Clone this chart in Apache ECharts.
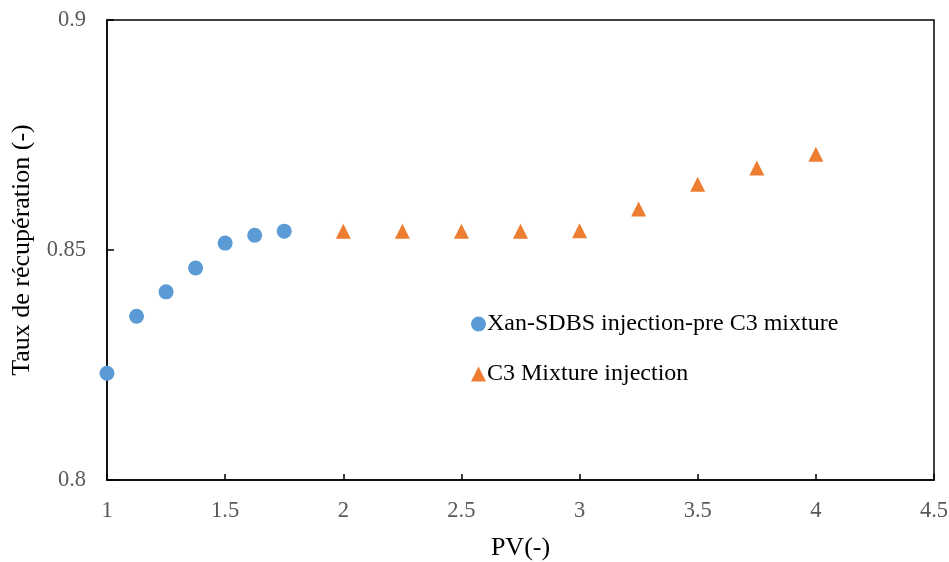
<!DOCTYPE html>
<html>
<head>
<meta charset="utf-8">
<script src="https://cdn.jsdelivr.net/npm/echarts@6/dist/echarts.min.js"></script>
<style>html,body{margin:0;padding:0;background:#fff}#c{width:949px;height:562px}</style>
</head>
<body>
<div id="c"></div>
<script>
const seriesNames = ['Xan-SDBS injection-pre C3 mixture', 'C3 Mixture injection'];
const xanX = [1, 1.125, 1.25, 1.375, 1.5, 1.625, 1.75];
const xanY = [0.8232, 0.8356, 0.8409, 0.8461, 0.8515, 0.8532, 0.8541];
const c3X = [2, 2.25, 2.5, 2.75, 3, 3.25, 3.5, 3.75, 4];
const c3Y = [0.8541, 0.8541, 0.8541, 0.8541, 0.8542, 0.8589, 0.8643, 0.8678, 0.8708];
const xTitle = 'PV(-)';
const yTitle = 'Taux de récupération (-)';

const font = 'Liberation Serif, Times New Roman, serif';
const chart = echarts.init(document.getElementById('c'));
chart.setOption({
  animation: false,
  grid: {left: 107, right: 15, top: 20, bottom: 82, show: true, borderColor: '#000', borderWidth: 1.5,
         containLabel: false, outerBoundsMode: 'none'},
  legend: {
    orient: 'vertical', left: 466, top: 307, itemGap: 26, itemWidth: 15, itemHeight: 15,
    textStyle: {fontFamily: font, fontSize: 24, color: '#000', padding: [0,0,0,-4]},
    data: [{name: seriesNames[0], icon: 'circle'}, {name: seriesNames[1], icon: 'triangle'}]
  },
  xAxis: {
    type: 'value', min: 1, max: 4.5, interval: 0.5,
    name: xTitle, nameLocation: 'middle', nameGap: 55,
    nameTextStyle: {fontFamily: font, fontSize: 26, color: '#000'},
    axisLine: {lineStyle: {color: '#000', width: 1.5}},
    axisTick: {inside: true, length: 6, lineStyle: {color: '#000', width: 1.5}},
    axisLabel: {fontFamily: font, fontSize: 22.5, color: '#595959', margin: 20},
    splitLine: {show: false}
  },
  yAxis: {
    type: 'value', min: 0.8, max: 0.9, interval: 0.05,
    name: yTitle, nameLocation: 'middle', nameGap: 72,
    nameTextStyle: {fontFamily: font, fontSize: 26, color: '#000'},
    axisLine: {lineStyle: {color: '#000', width: 1.5}},
    axisTick: {inside: true, length: 7, lineStyle: {color: '#000', width: 1.5}},
    axisLabel: {fontFamily: font, fontSize: 22.5, color: '#595959', margin: 21,
      formatter: v => String(Number(v.toFixed(2)))},
    splitLine: {show: false}
  },
  series: [
    {name: seriesNames[0], type: 'scatter', symbol: 'circle', symbolSize: 15,
     itemStyle: {color: '#5B9BD5', opacity: 1}, data: xanX.map((x, i) => [x, xanY[i]])},
    {name: seriesNames[1], type: 'scatter', symbol: 'triangle', symbolSize: 15,
     itemStyle: {color: '#ED7D31', opacity: 1}, data: c3X.map((x, i) => [x, c3Y[i]])}
  ]
});
</script>
</body>
</html>
